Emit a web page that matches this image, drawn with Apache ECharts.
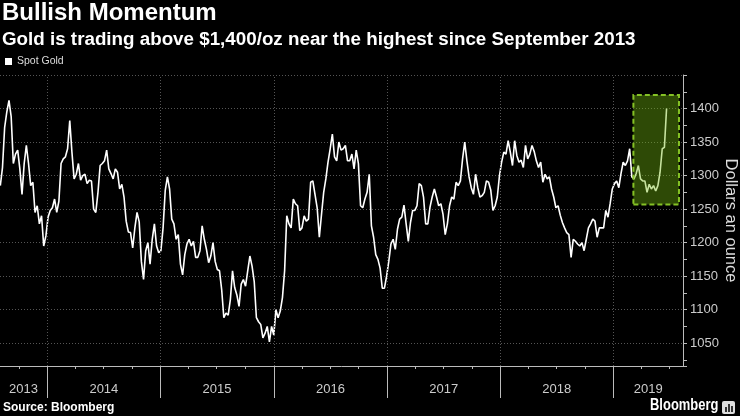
<!DOCTYPE html>
<html>
<head>
<meta charset="utf-8">
<title>Bullish Momentum</title>
<script src="https://cdn.jsdelivr.net/npm/echarts@6/dist/echarts.min.js"></script>
<style>
  html, body { margin: 0; padding: 0; background: #000; }
  #main { width: 740px; height: 416px; }
</style>
</head>
<body>
<div id="main"></div>
<script>
// weekly spot gold (USD/oz), one value per Friday starting firstFriday
var firstFriday = '2013-08-02';
var gold2013 = [1285, 1312, 1372, 1395, 1412, 1388, 1318, 1332, 1338, 1310, 1272, 1318, 1345, 1318, 1285, 1290, 1245, 1255, 1228, 1240, 1195, 1210];
var gold2014 = [1238, 1248, 1252, 1265, 1245, 1262, 1318, 1325, 1328, 1340, 1382, 1335, 1295,
                1302, 1318, 1293, 1300, 1302, 1288, 1293, 1292, 1250, 1245, 1275, 1315, 1318,
                1322, 1338, 1310, 1303, 1295, 1310, 1305, 1280, 1287, 1268, 1232, 1216, 1215,
                1192, 1222, 1245, 1231, 1172, 1145, 1188, 1200, 1168, 1205, 1228, 1195, 1185];
var gold2015 = [1188, 1222, 1278, 1298, 1280, 1235, 1228, 1205, 1212, 1168, 1152, 1182, 1198,
                1205, 1195, 1202, 1178, 1178, 1188, 1225, 1205, 1190, 1170, 1180, 1200, 1172,
                1160, 1158, 1130, 1088, 1095, 1092, 1115, 1158, 1133, 1122, 1105, 1138, 1145,
                1135, 1158, 1180, 1165, 1142, 1088, 1082, 1078, 1058, 1065, 1075, 1052, 1075];
var gold2016 = [1062, 1100, 1088, 1098, 1118, 1158, 1240, 1228, 1222, 1265, 1258, 1255, 1218,
                1222, 1240, 1232, 1235, 1290, 1292, 1272, 1252, 1208, 1242, 1275, 1295, 1320,
                1340, 1362, 1328, 1322, 1350, 1338, 1340, 1345, 1322, 1322, 1332, 1310, 1338, 1318,
                1255, 1252, 1265, 1275, 1302, 1225, 1208, 1182, 1175, 1162, 1132, 1132, 1150];
var gold2017 = [1172, 1198, 1205, 1190, 1220, 1235, 1238, 1256, 1228, 1202, 1230, 1248, 1248,
                1255, 1288, 1285, 1268, 1228, 1228, 1253, 1268, 1280, 1268, 1255, 1258, 1242,
                1212, 1228, 1255, 1268, 1265, 1290, 1285, 1292, 1325, 1350, 1322, 1298, 1282,
                1272, 1302, 1282, 1268, 1270, 1275, 1292, 1290, 1278, 1248, 1255, 1268, 1300];
var gold2018 = [1320, 1335, 1332, 1352, 1335, 1315, 1352, 1330, 1320, 1323, 1312, 1345, 1325,
                1332, 1345, 1336, 1322, 1312, 1320, 1290, 1302, 1295, 1298, 1280, 1268, 1252,
                1255, 1241, 1230, 1222, 1215, 1212, 1178, 1205, 1202, 1198, 1195, 1200, 1188,
                1205, 1222, 1228, 1235, 1232, 1208, 1222, 1222, 1222, 1248, 1238, 1258, 1280];
var gold2019 = [1288, 1292, 1282, 1303, 1320, 1315, 1322, 1340, 1298, 1295, 1303, 1315, 1295,
                1292, 1292, 1275, 1287, 1280, 1285, 1277, 1285, 1305, 1340, 1342, 1400];

var axisStart = '2013-08-01';
var axisEnd = '2019-08-13';
var yearStarts = ['2014-01-01', '2015-01-01', '2016-01-01', '2017-01-01', '2018-01-01', '2019-01-01'];
var quarterStarts = ['2013-10-01',
  '2014-04-01', '2014-07-01', '2014-10-01', '2015-04-01', '2015-07-01', '2015-10-01',
  '2016-04-01', '2016-07-01', '2016-10-01', '2017-04-01', '2017-07-01', '2017-10-01',
  '2018-04-01', '2018-07-01', '2018-10-01', '2019-04-01', '2019-07-01'];
var yearLabelAt = ['2013-10-16', '2014-07-02', '2015-07-02', '2016-07-02', '2017-07-02', '2018-07-02', '2019-04-23'];
var highlightDates = ['2019-03-06', '2019-07-31'];
var highlightRange = [1257, 1420];

function t(s) {
  var p = s.split('-');
  return new Date(+p[0], p[1] - 1, +p[2]).getTime();
}

var values = [].concat(gold2013, gold2014, gold2015, gold2016, gold2017, gold2018, gold2019);
var start = t(firstFriday);
var seriesData = values.map(function (v, i) {
  return [start + i * 7 * 86400000, v];
});

var font = '"Liberation Sans", Arial, sans-serif';
var myChart = echarts.init(document.getElementById('main'));

myChart.setOption({
  backgroundColor: '#000',
  animation: false,
  textStyle: { fontFamily: font },
  title: {
    text: 'Bullish Momentum',
    subtext: 'Gold is trading above $1,400/oz near the highest since September 2013',
    left: 2, top: 1, padding: 0, itemGap: 5,
    textStyle: { color: '#fff', fontSize: 24, fontWeight: 'bold', fontFamily: font },
    subtextStyle: { color: '#fff', fontSize: 18.8, fontWeight: 'bold', fontFamily: font }
  },
  legend: {
    data: ['Spot Gold'],
    left: 5, top: 56, padding: 0,
    icon: 'rect', itemWidth: 7, itemHeight: 7,
    textStyle: { color: '#ddd', fontSize: 10.5, fontFamily: font }
  },
  grid: { left: 0, right: 57, top: 75, bottom: 50, containLabel: false, outerBoundsMode: 'none' },
  // x is a plain value axis in milliseconds so that custom tick positions can be used
  xAxis: [{
    type: 'value',
    min: t(axisStart), max: t(axisEnd),
    axisLine: { lineStyle: { color: '#bbb', width: 1 } },
    axisTick: { customValues: yearStarts.map(t), length: 32, lineStyle: { color: '#bbb' } },
    axisLabel: {
      customValues: yearLabelAt.map(t),
      formatter: function (v) { return String(new Date(v).getFullYear()); },
      color: '#ccc', fontSize: 13, margin: 17
    },
    splitLine: { show: false }
  }, {
    type: 'value',
    position: 'bottom',
    min: t(axisStart), max: t(axisEnd),
    axisLine: { show: false },
    axisTick: { customValues: quarterStarts.map(t), length: 3, lineStyle: { color: '#bbb' } },
    axisLabel: { show: false },
    splitLine: { show: false }
  }],
  yAxis: {
    type: 'value',
    position: 'right',
    min: 1016, max: 1450,
    splitNumber: 9, minInterval: 50, maxInterval: 50,
    name: 'Dollars an ounce',
    nameLocation: 'middle', nameRotate: -90, nameGap: 39, nameMoveOverlap: false,
    nameTextStyle: { color: '#ddd', fontSize: 16.5, fontFamily: font },
    axisLine: { show: true, lineStyle: { color: '#bbb', width: 1 } },
    axisTick: { show: true, length: 4, lineStyle: { color: '#bbb' } },
    minorTick: { show: true, splitNumber: 2, length: 4, lineStyle: { color: '#bbb' } },
    axisLabel: {
      color: '#ccc', fontSize: 13, margin: 7, showMinLabel: false, showMaxLabel: false,
      formatter: function (v) { return String(v); }
    },
    splitLine: { show: true, lineStyle: { color: '#555', type: [1, 2], width: 1 } }
  },
  graphic: [
    { type: 'text', left: 3, top: 402,
      style: { text: 'Source: Bloomberg', fill: '#fff', font: 'bold 12px ' + font } },
    { type: 'text', left: 650, top: 398, scaleX: 0.81,
      style: { text: 'Bloomberg', fill: '#fff', font: 'bold 16px ' + font } },
    { type: 'group', right: 5, top: 401, children: [
      { type: 'rect', shape: { x: 0, y: 0, width: 13, height: 13, r: 2 }, style: { fill: '#ddd' } },
      { type: 'rect', shape: { x: 3, y: 6, width: 2, height: 5 }, style: { fill: '#333' } },
      { type: 'rect', shape: { x: 6, y: 3, width: 2, height: 8 }, style: { fill: '#333' } },
      { type: 'rect', shape: { x: 9, y: 5, width: 2, height: 6 }, style: { fill: '#333' } }
    ] }
  ],
  series: [{
    name: 'Spot Gold',
    type: 'line',
    z: 0,
    showSymbol: false,
    symbol: 'none',
    data: seriesData,
    itemStyle: { color: '#fff' },
    lineStyle: { color: '#fff', width: 1.6 },
    markLine: {
      silent: true,
      symbol: ['none', 'none'],
      label: { show: false },
      lineStyle: { color: '#555', type: [1, 2], width: 1 },
      data: yearStarts.map(function (d) { return { xAxis: t(d) }; })
    },
    markArea: {
      silent: true,
      itemStyle: {
        color: 'rgba(115, 185, 15, 0.4)',
        borderColor: '#84c125', borderWidth: 2, borderType: [5, 3]
      },
      data: [[
        { xAxis: t(highlightDates[0]), yAxis: highlightRange[0] },
        { xAxis: t(highlightDates[1]), yAxis: highlightRange[1] }
      ]]
    }
  }]
});
</script>
</body>
</html>
